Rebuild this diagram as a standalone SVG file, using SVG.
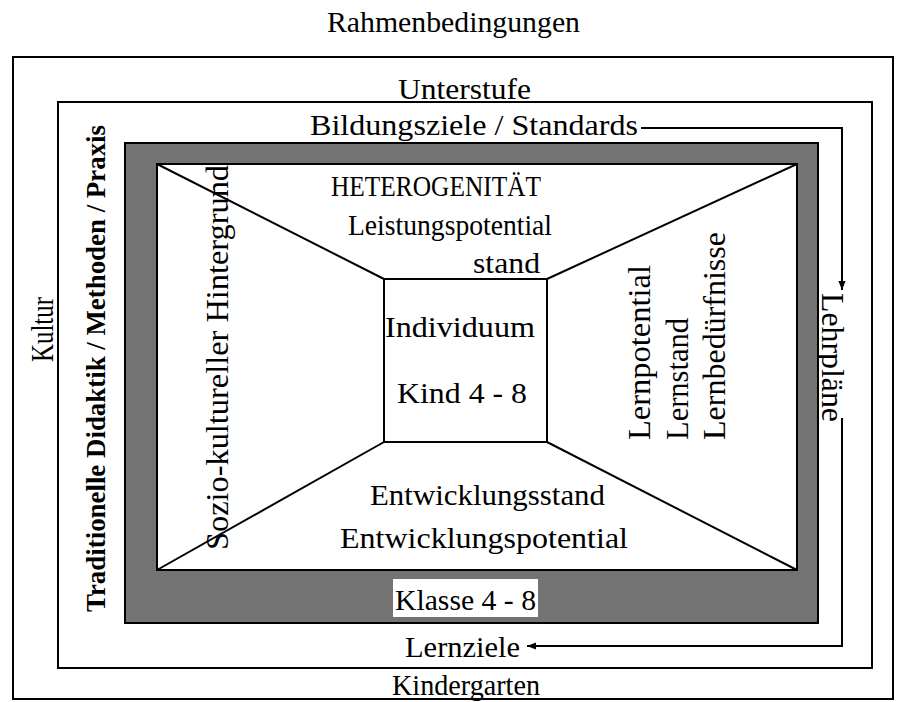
<svg xmlns="http://www.w3.org/2000/svg" width="908" height="702" viewBox="0 0 908 702">
<style>
text{font-family:"Liberation Serif","Times New Roman",serif;font-size:30px;fill:#000}
.v{font-size:31px}
.b{font-weight:bold;font-size:27px}
.box{fill:none;stroke:#000;stroke-width:2}
.ln{stroke:#000;stroke-width:2;fill:none}
.ar{stroke:#000;stroke-width:2;fill:none}
</style>
<defs>
<marker id="ah" viewBox="0 0 10 10" refX="10" refY="5" markerWidth="9" markerHeight="9" markerUnits="userSpaceOnUse" orient="auto">
<path d="M0,1 L10,5 L0,9 z" fill="#000"/>
</marker>
</defs>
<rect width="908" height="702" fill="#fff"/>
<text x="327" y="32" textLength="253" lengthAdjust="spacingAndGlyphs">Rahmenbedingungen</text>
<g id="rahmen">
<rect class="box" x="13" y="57" width="880" height="642"/>
<text class="v" transform="translate(53,362) rotate(-90)" textLength="65" lengthAdjust="spacingAndGlyphs">Kultur</text>
<text x="392" y="695" textLength="148" lengthAdjust="spacingAndGlyphs">Kindergarten</text>
</g>
<g id="unterstufe">
<rect class="box" x="58" y="102" width="814" height="566"/>
<text x="398" y="99" textLength="133" lengthAdjust="spacingAndGlyphs">Unterstufe</text>
<text x="310" y="135" textLength="328" lengthAdjust="spacingAndGlyphs">Bildungsziele / Standards</text>
<text class="b" transform="translate(105,612) rotate(-90)" textLength="487" lengthAdjust="spacingAndGlyphs">Traditionelle Didaktik / Methoden / Praxis</text>
<text class="v" transform="translate(822,293) rotate(90)" textLength="129" lengthAdjust="spacingAndGlyphs">Lehrpläne</text>
<text x="405" y="657" textLength="115" lengthAdjust="spacingAndGlyphs">Lernziele</text>
</g>
<g id="klasse">
<rect x="125" y="143" width="693" height="480" fill="#737373" stroke="#000" stroke-width="2"/>
<rect x="393" y="579" width="145" height="38" fill="#fff"/>
<text x="395" y="610" textLength="141" lengthAdjust="spacingAndGlyphs">Klasse 4 - 8</text>
</g>
<g id="heterogenitaet">
<rect x="157" y="164" width="640" height="406" fill="#fff" stroke="#000" stroke-width="2"/>
<line class="ln" x1="157" y1="164" x2="384" y2="279"/>
<line class="ln" x1="797" y1="164" x2="547" y2="279"/>
<line class="ln" x1="157" y1="570" x2="384" y2="442"/>
<line class="ln" x1="797" y1="570" x2="547" y2="442"/>
<text x="331" y="196" textLength="210" lengthAdjust="spacingAndGlyphs">HETEROGENITÄT</text>
<text x="348" y="235" textLength="204" lengthAdjust="spacingAndGlyphs">Leistungspotential</text>
<text x="473" y="273" textLength="67" lengthAdjust="spacingAndGlyphs">stand</text>
<text class="v" transform="translate(228,550) rotate(-90)" textLength="385" lengthAdjust="spacingAndGlyphs">Sozio-kultureller Hintergrund</text>
<text class="v" transform="translate(650,440) rotate(-90)" textLength="175" lengthAdjust="spacingAndGlyphs">Lernpotential</text>
<text class="v" transform="translate(688,440) rotate(-90)" textLength="122" lengthAdjust="spacingAndGlyphs">Lernstand</text>
<text class="v" transform="translate(725,440) rotate(-90)" textLength="208" lengthAdjust="spacingAndGlyphs">Lernbedürfnisse</text>
<text x="370" y="505" textLength="235" lengthAdjust="spacingAndGlyphs">Entwicklungsstand</text>
<text x="340" y="548" textLength="288" lengthAdjust="spacingAndGlyphs">Entwicklungspotential</text>
</g>
<g id="individuum">
<rect x="384" y="279" width="163" height="163" fill="#fff" stroke="#000" stroke-width="2"/>
<text x="385" y="337" textLength="150" lengthAdjust="spacingAndGlyphs">Individuum</text>
<text x="397" y="403" textLength="130" lengthAdjust="spacingAndGlyphs">Kind 4 - 8</text>
</g>
<g id="connectors">
<path class="ar" d="M641,128 H842 V290" marker-end="url(#ah)"/>
<path class="ar" d="M842,418 V646 H527" marker-end="url(#ah)"/>
</g>
</svg>
